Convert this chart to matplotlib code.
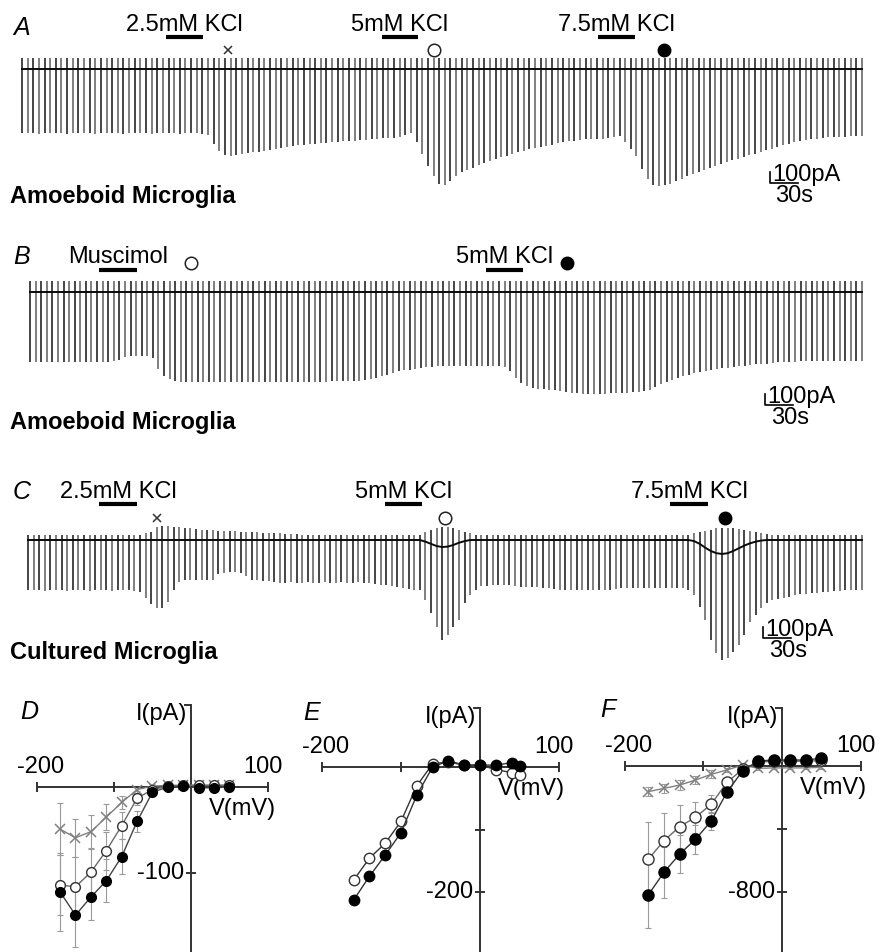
import matplotlib
matplotlib.use("Agg")
import matplotlib.pyplot as plt
import numpy as np

plt.rcParams['font.family'] = ['Liberation Sans', 'DejaVu Sans']

W, H = 885, 952
FS = 17

# ---------------- voltage-step traces, one sweep every 6 s ----------------
sweep_s = 6.0

# A: amoeboid microglia, KCl 2.5 / 5 / 7.5 mM (inward step, pA below baseline)
depth_A = [
    580, 585, 580, 590, 580, 585, 580, 580, 590, 585,
    580, 585, 580, 590, 580, 585, 580, 580, 590, 585,
    580, 585, 580, 590, 580, 585, 580, 580, 590, 585,
    580, 585, 590, 600,
    680, 745, 782, 791, 783, 775, 767, 759, 751, 743,
    735, 727, 719, 711, 703, 691, 687, 683, 679, 675,
    671, 667, 663, 659, 655, 651, 647, 643, 639, 635,
    631, 627, 623, 618, 600, 582,
    664, 773, 882, 973, 1045, 1055, 1018, 973, 936, 916,
    896, 876, 856, 836, 818, 803, 788, 773, 758, 742,
    727, 717, 707, 697, 687, 676, 665, 655, 650, 645,
    640, 638, 636, 632, 627, 620, 612, 665, 727, 791,
    909, 1000, 1055, 1064, 1055, 1045, 1021, 998, 975, 955,
    936, 918, 900, 882, 864, 845, 830, 815, 800, 785,
    770, 755, 740, 725, 710, 695, 680, 664, 655, 648,
    640, 633, 626, 620, 618, 616, 614, 612, 610, 609,
]
up_A = 100

# B: amoeboid microglia, muscimol then 5 mM KCl
depth_B = [
    636, 640, 636, 632, 636, 640, 636, 632, 636, 640,
    636, 632, 636, 640, 636, 630, 620,
    590, 582, 582, 582, 585, 600,
    700, 764, 791, 809,
    815, 818, 820, 818, 815, 818, 820, 818, 815, 818,
    820, 818, 815, 818, 820, 818, 815, 818, 820, 818,
    815, 818, 820, 818, 815, 818, 815, 812, 812, 810,
    810, 808, 806, 804,
    795, 780, 765, 750, 735, 720, 712, 705, 698, 692,
    686, 681, 677, 675, 673,
    673, 673, 673, 673, 673, 673, 673, 673, 675, 680,
    718, 782, 827, 855, 873, 880, 885, 890, 895, 900,
    910, 915, 920, 925, 927, 927, 927, 925, 922, 920,
    918, 915, 910, 905, 900, 890, 864, 836, 818, 800,
    782, 764, 755, 736, 727, 718, 710, 700, 695, 690,
    682, 676, 670, 664, 658, 655, 650, 645, 640, 636,
    636, 634, 630, 627, 627, 627, 627, 627, 627, 627, 627, 627, 627, 627,
]
up_B = 100

# C: cultured microglia, KCl 2.5 / 5 / 7.5 mM
depth_C = [
    455, 450, 455, 460, 455, 450, 455, 460, 455, 450,
    455, 460, 455, 450, 455, 460, 455, 450, 455, 460, 470,
    527, 582, 618, 618, 564, 455, 382,
    364, 364, 360, 364, 364, 360,
    310, 300, 295, 290, 300,
    327,
    364, 364, 370, 375,
    385, 390, 390, 385, 390, 390, 385, 390, 390, 385,
    390, 390, 385, 390, 390, 385, 390, 395, 400, 405, 410,
    420, 430, 440, 445, 450, 455,
    545, 664, 791, 909, 864, 791, 727, 573, 500, 455,
    418, 415, 412, 410, 409, 409,
    420, 425, 430, 430, 430, 435, 440,
    445, 450, 455, 455, 455, 450, 455, 455, 450, 455, 450, 445, 440,
    436, 436, 436, 436, 436, 436, 436, 436, 436, 436, 440, 450,
    500, 610, 727, 909, 1027, 1091, 1073, 1018, 955, 864, 745, 682, 618, 573,
    545, 536, 527, 518,
    500, 495, 490, 485, 480, 475, 470, 465, 460, 458, 456, 455, 455,
]
top_C = [
    45, 50, 45, 45, 50, 45, 45, 50, 45, 45,
    50, 45, 45, 50, 45, 45, 50, 45, 45, 50, 45,
    60, 70, 120, 130, 125, 120, 115, 110, 105, 100,
    95, 90, 90, 85, 85, 80, 80, 75, 75, 70, 70,
    65, 65, 60, 60, 55, 55, 55,
    50, 50, 50, 50, 50, 50, 50, 50, 50, 50, 50,
    50, 50, 50, 50, 50, 50, 50, 50, 50, 50, 50,
    70, 90, 110, 120, 120, 110, 90, 70, 60,
    50, 50, 50, 50, 50, 50, 50, 50, 50, 50,
    50, 50, 50, 50, 50, 50, 50, 50, 50, 50,
    50, 50, 50, 50, 50, 50, 50, 50, 50, 50,
    50, 50, 50, 50, 50, 50, 50, 50, 50,
    60, 70, 85, 95, 105, 110, 110, 105, 100, 90, 80, 70, 60, 55,
    50, 50, 50, 50, 50, 50, 50, 50, 50, 50,
    50, 50, 50, 50, 50, 50, 50,
]
# holding current shift (pA) during the higher KCl applications in C
hold_C_idx = [71, 72, 73, 74, 75, 76, 77, 78,
              119, 120, 121, 122, 123, 124, 125, 126, 127, 128, 129, 130, 131]
hold_C_val = [-15, -35, -55, -64, -60, -45, -25, -10,
              -10, -35, -70, -100, -120, -127, -120, -100, -75, -50, -30, -15, -5]

# drug applications (s)
drug_A = ['2.5mM KCl', '5mM KCl', '7.5mM KCl']
drug_A_on = [153, 383, 613]
drug_A_off = [193, 421, 652]
mark_A_t = [219, 439, 683]
mark_A = ['x', 'o', 'f']

drug_B = ['Muscimol', '5mM KCl']
drug_B_on = [74, 490]
drug_B_off = [115, 530]
mark_B_t = [173, 577]
mark_B = ['o', 'f']

drug_C = ['2.5mM KCl', '5mM KCl', '7.5mM KCl']
drug_C_on = [76, 383, 688]
drug_C_off = [117, 422, 729]
mark_C_t = [138, 447, 747]
mark_C = ['x', 'o', 'f']

# ---------------- I-V curves ----------------
V_D = [-170, -150, -130, -110, -90, -70, -50, -30, -10, 10, 30, 50]
D_k75 = [-122, -149, -128, -109, -81, -40, -6, 0, 1, -1, -1, 0]
D_k75_err = [45, 37, 27, 25, 20, 12, 5, 2, 2, 2, 2, 2]
D_k5 = [-114, -116, -99, -74, -45, -13, -3, 1, 2, 2, 2, 2]
D_k5_err = [35, 35, 28, 22, 16, 8, 3, 2, 2, 2, 2, 2]
D_k25 = [-49, -59, -52, -35, -18, -3, 1, 2, 2, 2, 2, 2]
D_k25_err = [30, 22, 20, 15, 8, 4, 2, 2, 2, 2, 2, 2]

V_E = [-160, -140, -120, -100, -80, -60, -40, -20, 0, 20, 40, 50]
E_k5 = [-213, -175, -141, -105, -45, 0, 10, 3, 3, 3, 7, 2]
E_musc = [-181, -146, -122, -87, -30, 5, 8, 3, 3, -4, -9, -13]

V_F = [-170, -150, -130, -110, -90, -70, -50, -30, -10, 10, 30, 50]
F_k75 = [-819, -675, -559, -466, -349, -167, -30, 32, 38, 38, 38, 49]
F_k75_err = [210, 160, 120, 90, 57, 25, 10, 5, 5, 5, 5, 5]
F_k5 = [-593, -474, -385, -326, -243, -104, -21, 25, 30, 30, 30, 35]
F_k5_err = [235, 176, 138, 98, 57, 25, 10, 5, 5, 5, 5, 5]
F_k25 = [-163, -142, -121, -89, -53, -25, 6, -15, -12, -12, -12, -8]
F_k25_err = [30, 30, 30, 28, 25, 15, 10, 10, 10, 10, 10, 10]

fig = plt.figure(figsize=(W / 100, H / 100), dpi=100)
fig.patch.set_facecolor('white')


def px_axes(box, origin, sx, sy):
    """axes over pixel box (l, t, r, b); origin is the pixel of data (0, 0)"""
    l, t, r, b = box
    ax = fig.add_axes([l / W, 1 - b / H, (r - l) / W, (b - t) / H])
    ax.set_xlim((l - origin[0]) / sx, (r - origin[0]) / sx)
    ax.set_ylim((origin[1] - b) / sy, (origin[1] - t) / sy)
    ax.axis('off')
    return ax


def ptext(x, y, s, **kw):
    kw.setdefault('fontsize', FS)
    kw.setdefault('va', 'center')
    fig.text(x / W, 1 - y / H, s, **kw)


def draw_trace(ax, depth, top, hold):
    t = np.arange(len(depth)) * sweep_s
    top = np.broadcast_to(np.asarray(top, float), t.shape)
    cols = ['#141414' if i % 2 == 0 else '#5c5c5c' for i in range(len(t))]
    ax.vlines(t, -np.asarray(depth, float), top, colors=cols, lw=1.1)
    ax.plot(t, hold, color='#0a0a0a', lw=1.4)


def draw_drugs(ax, names, on, off, y_txt, y_bar):
    for name, a, b in zip(names, on, off):
        ax.plot([a, b], [y_bar, y_bar], color='k', lw=3, solid_capstyle='butt')
        ax.text((a + b) / 2, y_txt, name, ha='center', va='center', fontsize=FS)


def draw_marks(ax, times, kinds, y):
    for t, k in zip(times, kinds):
        if k == 'x':
            ax.plot(t, y, 'x', color='#333333', ms=6, mew=1.1)
        elif k == 'o':
            ax.plot(t, y, 'o', mfc='white', mec='#222222', ms=9, mew=1.1)
        else:
            ax.plot(t, y, 'o', color='k', ms=9)


def scalebar(ax, t, y):
    ax.plot([t, t, t + 30], [y + 100, y, y], color='k', lw=1.2)
    ax.text(t + 2, y + 22, '100pA', ha='left', va='baseline', fontsize=FS)
    ax.text(t + 6, y - 22, '30s', ha='left', va='top', fontsize=FS)


n_sw = len(depth_A)
span = (n_sw - 1) * sweep_s

# ---- A ----
axA = px_axes((0, 0, W, 230), (22, 69), 840 / span, 0.11)
draw_trace(axA, depth_A, up_A, np.zeros(len(depth_A)))
draw_drugs(axA, drug_A, drug_A_on, drug_A_off, 400, 291)
draw_marks(axA, mark_A_t, mark_A, 173)
scalebar(axA, 796, -1036)
ptext(13, 28, 'A', style='italic', fontsize=18)
ptext(10, 197, 'Amoeboid Microglia', weight='bold')

# ---- B ----
axB = px_axes((0, 230, W, 460), (30, 292), 832 / span, 0.11)
draw_trace(axB, depth_B, up_B, np.zeros(len(depth_B)))
draw_drugs(axB, drug_B, drug_B_on, drug_B_off, 318, 200)
draw_marks(axB, mark_B_t, mark_B, 262)
scalebar(axB, 790, -1027)
ptext(13, 257, 'B', style='italic', fontsize=18)
ptext(10, 423, 'Amoeboid Microglia', weight='bold')

# ---- C ----
hold_C = np.zeros(len(depth_C))
hold_C[hold_C_idx] = hold_C_val
axC = px_axes((0, 460, W, 690), (28, 540), 834 / span, 0.11)
draw_trace(axC, depth_C, top_C, hold_C)
draw_drugs(axC, drug_C, drug_C_on, drug_C_off, 436, 327)
draw_marks(axC, mark_C_t, mark_C, 200)
scalebar(axC, 788, -891)
ptext(13, 492, 'C', style='italic', fontsize=18)
ptext(10, 653, 'Cultured Microglia', weight='bold')


# ---------------- I-V panels ----------------
def iv_frame(ax, ytop, ybot, yticks, ylabel):
    c = '#333333'
    ax.plot([-200, 100], [0, 0], color=c, lw=1.4, clip_on=False)
    ax.plot([0, 0], [ytop, ybot], color=c, lw=1.4, clip_on=False)
    ax.plot([-200, -100, 100], [0, 0, 0], ls='none', marker='|', ms=7, mew=1.4, color=c)
    ax.plot([0] * len(yticks), yticks, ls='none', marker='_', ms=7, mew=1.4, color=c)
    ax.plot(0, ytop, ls='none', marker=0, ms=5, mew=1.4, color=c)
    for v, dx in [(-200, 4), (100, -5)]:
        ax.annotate(str(v), (v, 0), xytext=(dx, 20), textcoords='offset pixels',
                    ha='center', va='center', fontsize=FS)
    ax.annotate(str(ylabel), (0, ylabel), xytext=(-7, 0), textcoords='offset pixels',
                ha='right', va='center', fontsize=FS)
    ax.annotate('V(mV)', (0, 0), xytext=(51, -22), textcoords='offset pixels',
                ha='center', va='center', fontsize=FS)
    ax.annotate('I(pA)', (0, ytop), xytext=(-4, -9), textcoords='offset pixels',
                ha='right', va='center', fontsize=FS)


def iv_series(ax, v, i, err, kind, ms, lc):
    if err is not None:
        ax.errorbar(v, i, yerr=err, fmt='none', ecolor='#9a9a9a', elinewidth=0.8,
                    capsize=2, capthick=0.8, zorder=1)
    if kind == 'f':
        ax.plot(v, i, '-o', color=lc, lw=1.0, mfc='k', mec='k', ms=ms, zorder=4)
    elif kind == 'o':
        ax.plot(v, i, '-o', color=lc, lw=1.0, mfc='white', mec='#333333', mew=1.0,
                ms=ms, zorder=3)
    else:
        ax.plot(v, i, '-x', color='#808080', lw=1.0, ms=ms, mew=1.1, zorder=2)


axD = px_axes((0, 690, 295, H), (191, 787), 0.77, 0.86)
iv_frame(axD, 95, -195, [-100], -100)
iv_series(axD, V_D, D_k25, D_k25_err, 'x', 7, '#808080')
iv_series(axD, V_D, D_k5, D_k5_err, 'o', 7, '#6a6a6a')
iv_series(axD, V_D, D_k75, D_k75_err, 'f', 7, '#444444')
ptext(20, 712, 'D', style='italic', fontsize=18)

axE = px_axes((290, 690, 590, H), (480, 767), 0.79, 0.625)
iv_frame(axE, 94, -300, [-100, -200], -200)
iv_series(axE, V_E, E_musc, None, 'o', 7.5, '#333333')
iv_series(axE, V_E, E_k5, None, 'f', 7.5, '#333333')
ptext(303, 713, 'E', style='italic', fontsize=18)

axF = px_axes((585, 690, W, H), (782, 766), 0.787, 0.1575)
iv_frame(axF, 368, -1190, [-400, -800], -800)
iv_series(axF, V_F, F_k25, F_k25_err, 'x', 7, '#808080')
iv_series(axF, V_F, F_k5, F_k5_err, 'o', 8, '#6a6a6a')
iv_series(axF, V_F, F_k75, F_k75_err, 'f', 8, '#333333')
ptext(600, 710, 'F', style='italic', fontsize=18)

fig.savefig('out.png', dpi=100)
